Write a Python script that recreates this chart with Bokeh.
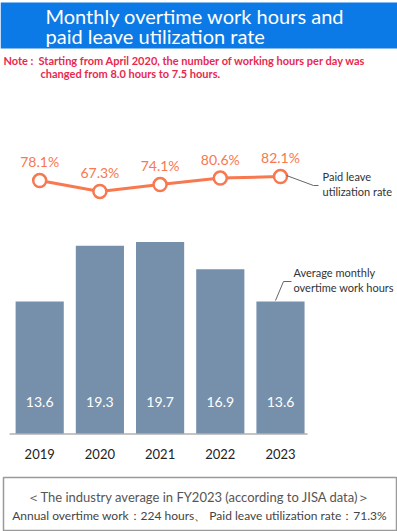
from bokeh.plotting import figure
from bokeh.models import Range1d
from bokeh.core.properties import value
from bokeh.embed import file_html
from bokeh.resources import INLINE

# ---- data ----
years = [2019, 2020, 2021, 2022, 2023]
year_labels = ["2019", "2020", "2021", "2022", "2023"]
overtime_hours = [13.6, 19.3, 19.7, 16.9, 13.6]
leave_rate = [78.1, 67.3, 74.1, 80.6, 82.1]

title_lines = ["Monthly overtime work hours and", "paid leave utilization rate"]
note_head = "Note :"
note_lines = ["Starting from April 2020, the number of working hours per day was",
              "changed from 8.0 hours to 7.5 hours."]
rate_caption = ["Paid leave", "utilization rate"]
bar_caption = ["Average monthly", "overtime work hours"]
industry_lines = ["＜The industry average in FY2023 (according to JISA data)＞",
                  "Annual overtime work：224 hours、 Paid leave utilization rate：71.3%"]

W, H = 397, 531
FONT = value("Lato")
BAR_COLOR = "#768faa"
LINE_COLOR = "#f87850"
BLUE = "#0b7ae6"
RED = "#e8294f"

p = figure(width=W, height=H, output_backend="svg", toolbar_location=None,
           x_axis_type=None, y_axis_type=None,
           x_range=Range1d(2018.349, 2018.349 + W / 60.2),
           y_range=Range1d(-10.0, -10.0 + H / 9.75),
           min_border=0, min_border_left=0, min_border_right=0,
           min_border_top=0, min_border_bottom=0)
p.outline_line_color = None
p.xgrid.visible = False
p.ygrid.visible = False
p.background_fill_color = "white"
p.border_fill_color = "white"

p.extra_y_ranges = {"rate": Range1d(-272.8, H - 272.8),
                    "py": Range1d(H, 0)}
p.extra_x_ranges = {"px": Range1d(0, W)}

# ---- bars ----
p.vbar(x=years, top=overtime_hours, width=0.8, bottom=0,
       fill_color=BAR_COLOR, line_color=None)
p.segment(x0=[years[0] - 0.5], y0=[0], x1=[years[-1] + 0.45], y1=[0],
          line_color="#b0b0b0", line_width=1.5)
p.text(x=years, y=[3.3] * len(years), text=[f"{v:.1f}" for v in overtime_hours],
       text_color="white", text_font=FONT, text_font_size="14px",
       text_align="center", text_baseline="middle")
p.text(x=years, y=[-2.0] * len(years), text=year_labels,
       text_color="#222222", text_font=FONT, text_font_size="13px",
       text_align="center", text_baseline="middle")

# ---- line ----
p.line(x=years, y=leave_rate, y_range_name="rate",
       line_color=LINE_COLOR, line_width=3)
p.scatter(x=years, y=leave_rate, y_range_name="rate", size=13,
          fill_color="white", line_color=LINE_COLOR, line_width=2.5)
p.text(x=years, y=[r + 19 for r in leave_rate], y_range_name="rate",
       text=[f"{r:.1f}%" for r in leave_rate],
       text_color=LINE_COLOR, text_font=FONT, text_font_size="14px",
       text_align="center", text_baseline="middle")

# ---- decoration in pixel space ----
p.quad(left=[0], right=[W], top=[2], bottom=[48], x_range_name="px",
       y_range_name="py", fill_color=BLUE, line_color=None)
p.text(x=[45, 45], y=[15, 35], text=title_lines, x_range_name="px", y_range_name="py",
       text_color="white", text_font=FONT, text_font_size="20px",
       text_align="left", text_baseline="middle")
p.text(x=[3], y=[60], text=[note_head], x_range_name="px", y_range_name="py",
       text_color=RED, text_font=FONT, text_font_size="11px", text_font_style="bold",
       text_align="left", text_baseline="middle")
p.text(x=[38, 40], y=[60, 73], text=note_lines, x_range_name="px", y_range_name="py",
       text_color=RED, text_font=FONT, text_font_size="11px", text_font_style="bold",
       text_align="left", text_baseline="middle")

# captions with leader lines
p.line(x=[286, 313, 318], y=[175, 185, 185], x_range_name="px", y_range_name="py",
       line_color="#666666", line_width=1)
p.text(x=[322, 322], y=[176, 191], text=rate_caption, x_range_name="px", y_range_name="py",
       text_color="#333333", text_font=FONT, text_font_size="11px",
       text_align="left", text_baseline="middle")
p.line(x=[275, 283, 291], y=[300, 281, 281], x_range_name="px", y_range_name="py",
       line_color="#666666", line_width=1)
p.text(x=[293, 293], y=[272, 287], text=bar_caption, x_range_name="px", y_range_name="py",
       text_color="#333333", text_font=FONT, text_font_size="11px",
       text_align="left", text_baseline="middle")

# industry average box
p.quad(left=[3], right=[396], top=[477], bottom=[530], x_range_name="px",
       y_range_name="py", fill_color=None, line_color="#9a9a9a", line_width=1.5)
p.text(x=[199], y=[496], text=[industry_lines[0]], x_range_name="px", y_range_name="py",
       text_color="#555555", text_font=FONT, text_font_size="13px",
       text_align="center", text_baseline="middle")
p.text(x=[199], y=[515], text=[industry_lines[1]], x_range_name="px", y_range_name="py",
       text_color="#444444", text_font=FONT, text_font_size="12px",
       text_align="center", text_baseline="middle")

open("out.html", "w").write(file_html(p, INLINE))
